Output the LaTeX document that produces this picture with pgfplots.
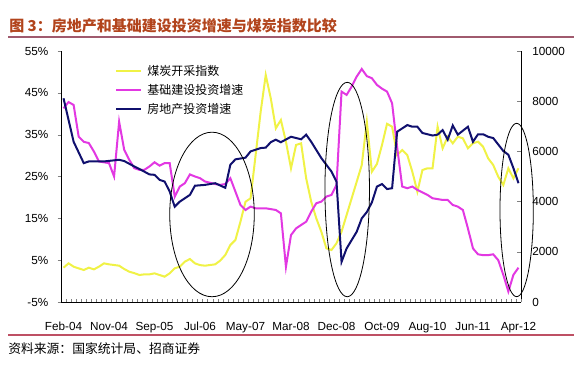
\documentclass[border=0pt]{standalone}
\usepackage{fontspec}
\setmainfont{Liberation Sans}
\newfontfamily\cjk{Noto Sans CJK SC}
\usepackage{pgfplots}
\usepackage{pgfplotstable}
\pgfplotsset{compat=1.18}
\definecolor{coalYel}{RGB}{240,242,70}
\definecolor{infraMag}{RGB}{226,56,226}
\definecolor{estateNav}{RGB}{16,16,110}
\definecolor{titleCol}{RGB}{178,68,28}
\definecolor{ruleA}{RGB}{160,90,110}
\definecolor{ruleB}{RGB}{190,80,100}

\pgfplotstableread{
x y
0 1367
1 1540
2 1407
3 1340
4 1275
5 1367
6 1300
7 1407
8 1540
9 1500
10 1474
11 1447
12 1315
13 1208
14 1150
15 1076
16 1102
17 1102
18 1142
19 1076
20 1009
21 1142
22 1342
23 1407
24 1607
25 1713
26 1540
27 1470
28 1447
29 1474
30 1500
31 1650
32 1873
33 2271
34 2470
35 3200
36 3996
37 4130
38 5856
39 7581
40 9044
41 8115
42 6920
43 7251
44 6387
45 5327
46 6255
47 6322
48 4928
49 3996
50 3334
51 2801
52 2139
53 2072
54 2339
55 2801
56 3466
57 4130
58 4793
59 5458
60 7183
61 5191
62 5500
63 6255
64 7100
65 6984
66 5856
67 6056
68 5856
69 5191
70 4395
71 5259
72 5327
73 5327
74 6984
75 6123
76 6586
77 6322
78 6586
79 6522
80 6123
81 6322
82 6387
83 6187
84 5725
85 5458
86 4992
87 4661
88 5327
89 4928
90 5327
}\coal

\pgfplotstableread{
x y
0 41.3
1 42.8
2 42.1
3 34.5
4 33.3
5 33.0
6 31.0
7 28.6
8 28.4
9 28.2
10 25.0
11 38.1
12 31.4
13 29.0
14 27.0
15 26.6
16 26.6
17 27.4
18 28.4
19 27.6
20 28.2
21 28.2
22 20.2
23 22.6
24 23.4
25 25.5
26 25.0
27 24.6
28 23.8
30 23.2
31 23.0
32 23.2
33 24.6
34 21.4
35 18.2
36 17.0
37 17.8
38 17.4
40 17.4
42 17.0
43 16.2
44 3.4
45 11.0
46 12.6
47 13.4
48 14.2
49 16.6
50 18.6
51 19.0
52 20.2
53 20.6
54 23.0
55 45.3
56 44.5
57 46.5
58 48.9
59 50.7
60 49.0
61 48.5
62 46.9
63 46.0
64 45.3
65 42.5
66 32.0
67 22.6
68 22.2
69 22.6
70 21.8
72 20.6
73 19.8
74 19.6
75 19.4
76 19.4
77 18.2
78 17.8
79 17.0
80 12.6
81 7.8
82 6.4
83 6.2
84 6.2
85 6.4
86 5.0
87 1.5
88 -2.5
89 1.5
90 3.2
}\infra

\pgfplotstableread{
x y
0 43.7
2 33.3
4 28.2
5 28.6
8 28.6
11 29.0
12 28.7
14 27.4
15 26.8
17 25.5
18 25.4
19 24.2
20 23.8
21 21.4
22 17.8
23 19.0
25 20.6
26 22.8
28 23.0
30 23.4
32 22.3
33 27.8
34 29.1
36 29.5
37 31.0
39 31.8
40 31.9
41 33.2
42 33.8
43 33.2
45 34.5
47 33.9
48 35.0
49 33.3
51 29.4
53 26.2
54 23.8
55 4.6
56 7.8
58 11.8
59 15.0
60 16.5
61 18.8
62 22.6
63 23.2
64 22.0
65 22.2
66 35.7
68 37.3
69 36.9
70 36.9
71 35.4
73 34.8
74 35.0
75 36.1
76 33.8
77 37.2
78 35.0
80 36.9
81 33.3
82 35.1
83 35.1
84 34.5
85 34.2
87 31.1
88 30.2
89 27.0
90 23.4
}\estate

\begin{document}
\begin{tikzpicture}
\path[use as bounding box] (0,0) rectangle (439.5pt,273.75pt);
\node[anchor=base west, inner sep=0pt, text=titleCol, font=\cjk\bfseries\fontsize{11.25pt}{13pt}\selectfont] at (6.75pt,250pt) {图 3：房地产和基础建设投资增速与煤炭指数比较};
\draw[ruleA, line width=1.5pt] (6pt,245.7pt) -- (430.5pt,245.7pt);
\draw[ruleB, line width=0.8pt] (6pt,22.5pt) -- (430.5pt,22.5pt);
\node[anchor=base west, inner sep=0pt, font=\cjk\fontsize{9.6pt}{11pt}\selectfont] at (6pt,9pt) {资料来源：国家统计局、招商证券};

\begin{axis}[
  at={(45.75pt,47.25pt)}, anchor=south west,
  scale only axis, width=345pt, height=188.25pt,
  xmin=-0.5, xmax=90.5, ymin=0, ymax=10000,
  axis x line=none, axis y line*=right,
  ytick={0,2000,...,10000},
  tick align=inside, major tick length=3pt,
  scaled y ticks=false,
  /pgf/number format/1000 sep={},
  /pgf/number format/assume math mode=true,
  tick label style={font=\fontsize{8.8pt}{10pt}\selectfont},
  yticklabel style={anchor=west, inner sep=0pt, xshift=8.25pt},
  axis line style={line width=0.6pt},
]
\addplot[coalYel, line width=1.5pt] table[x=x,y=y] {\coal};
\end{axis}

\begin{axis}[
  at={(45.75pt,47.25pt)}, anchor=south west,
  scale only axis, width=345pt, height=188.25pt,
  xmin=-0.5, xmax=90.5, ymin=-5, ymax=55,
  axis x line*=bottom, axis y line*=left,
  xtick={0,9,...,90},
  xticklabels={Feb-04,Nov-04,Sep-05,Jul-06,May-07,Mar-08,Dec-08,Oct-09,Aug-10,Jun-11,Apr-12},
  minor xtick={-0.5,0.5,...,90.5},
  ytick={-5,5,...,55},
  minor ytick={-5,5,...,55},
  yticklabel={\pgfmathprintnumber{\tick}\%},
  major tick length=0pt, minor tick length=2.5pt,
  xtick align=inside, ytick align=outside,
  /pgf/number format/assume math mode=true,
  tick label style={font=\fontsize{8.8pt}{10pt}\selectfont},
  yticklabel style={anchor=east, inner sep=0pt, xshift=-9.3pt},
  xticklabel style={anchor=base, inner sep=0pt, yshift=-21.4pt},
  axis line style={line width=0.6pt},
  legend style={at={(0.1174,0.958)}, anchor=north west, draw=none, fill=none, inner sep=0pt,
    font=\cjk\fontsize{9pt}{10pt}\selectfont, row sep=0pt,
    nodes={inner xsep=0pt, inner ysep=1.6pt, text height=8.5pt, text depth=2.5pt},
    /tikz/every odd column/.append style={column sep=3.75pt}},
  legend cell align=left,
  legend image code/.code={\draw[#1] (0pt,0pt) -- (18.75pt,0pt);},
]
\addlegendimage{coalYel, line width=1.5pt}
\addlegendentry{煤炭开采指数}
\addplot[infraMag, line width=1.5pt] table[x=x,y=y] {\infra};
\addlegendentry{基础建设投资增速}
\addplot[estateNav, line width=1.5pt] table[x=x,y=y] {\estate};
\addlegendentry{房地产投资增速}
\end{axis}

\draw[black, line width=0.6pt] (159pt,112.9pt) ellipse [x radius=31.7pt, y radius=61.7pt];
\draw[black, line width=0.6pt] (260.4pt,131.6pt) ellipse [x radius=16.7pt, y radius=80.4pt];
\draw[black, line width=0.6pt] (387.5pt,116.25pt) ellipse [x radius=12.5pt, y radius=65pt];
\end{tikzpicture}
\end{document}
